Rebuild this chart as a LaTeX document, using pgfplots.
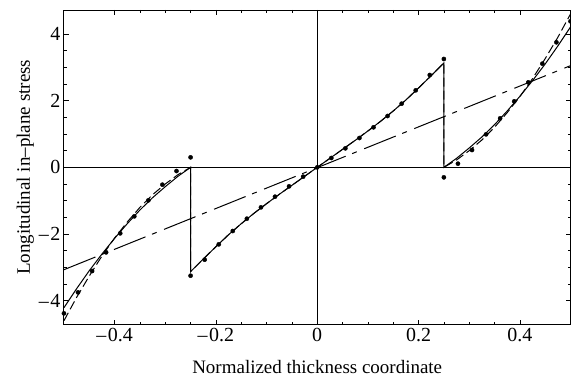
\documentclass[border=0pt]{standalone}
\usepackage{fontspec}
\setmainfont{Liberation Serif}
\usepackage{pgfplots}
\pgfplotsset{compat=1.18}
\begin{document}
\begin{tikzpicture}
\begin{axis}[
  scale only axis, width=507pt, height=315pt,
  xmin=-0.5, xmax=0.5, ymin=-4.72, ymax=4.72,
  font=\fontsize{19}{21}\selectfont,
  ticklabel style={font=\fontsize{20}{22}\selectfont},
  xtick={-0.4,-0.2,0,0.2,0.4},
  xticklabels={{\textendash\hspace{1.5pt}0.4},{\textendash\hspace{1.5pt}0.2},0,0.2,0.4},
  ytick={-4,-2,0,2,4},
  yticklabels={{\textendash\hspace{1.5pt}4},{\textendash\hspace{1.5pt}2},0,2,4},
  minor x tick num=3, minor y tick num=3,
  tick align=inside, major tick length=5pt, minor tick length=3pt,
  tick style={line width=0.6pt, black},
  axis line style={line width=0.9pt},
  xlabel={Normalized thickness coordinate},
  ylabel={Longitudinal in--plane stress},
  xlabel style={yshift=-12pt},
  ylabel style={yshift=-2pt},
  clip=true,
]
\coordinate (sw) at (rel axis cs:0,0);
\coordinate (ne) at (rel axis cs:1,1);
% zero axes
\addplot[black, line width=0.5pt] coordinates {(-0.5,0) (0.5,0)};
\addplot[black, line width=0.5pt] coordinates {(0,-4.72) (0,4.72)};
% dash-dot linear
\addplot[black, line width=1pt, dash pattern=on 34pt off 7pt on 5pt off 8pt] coordinates {(-0.5,-3.07) (0.5,3.05)};
% dashed
\addplot[black, line width=1pt, dash pattern=on 9pt off 4pt] coordinates {
(-0.5,-4.60) (-0.475,-3.90) (-0.45,-3.26) (-0.425,-2.66) (-0.4,-2.12) (-0.375,-1.64) (-0.35,-1.20) (-0.325,-0.82) (-0.3,-0.50) (-0.275,-0.22) (-0.25,0)
(-0.25,-3.13) (-0.225,-2.75) (-0.2,-2.38) (-0.175,-2.02) (-0.15,-1.69) (-0.125,-1.38) (-0.1,-1.09) (-0.075,-0.81) (-0.05,-0.54) (-0.025,-0.27) (0,0)
(0.025,0.27) (0.05,0.54) (0.075,0.81) (0.1,1.09) (0.125,1.38) (0.15,1.69) (0.175,2.02) (0.2,2.38) (0.225,2.75) (0.25,3.13)
(0.25,0) (0.275,0.22) (0.3,0.50) (0.325,0.82) (0.35,1.20) (0.375,1.64) (0.4,2.12) (0.425,2.66) (0.45,3.26) (0.475,3.90) (0.5,4.60)
};
% solid
\addplot[black, line width=1pt] coordinates {
(-0.5,-4.21) (-0.475,-3.64) (-0.45,-3.10) (-0.425,-2.60) (-0.4,-2.13) (-0.375,-1.69) (-0.35,-1.28) (-0.325,-0.91) (-0.3,-0.58) (-0.275,-0.27) (-0.25,0)
(-0.25,-3.13) (-0.225,-2.75) (-0.2,-2.38) (-0.175,-2.02) (-0.15,-1.69) (-0.125,-1.38) (-0.1,-1.09) (-0.075,-0.81) (-0.05,-0.54) (-0.025,-0.27) (0,0)
(0.025,0.27) (0.05,0.54) (0.075,0.81) (0.1,1.09) (0.125,1.38) (0.15,1.69) (0.175,2.02) (0.2,2.38) (0.225,2.75) (0.25,3.13)
(0.25,0) (0.275,0.27) (0.3,0.58) (0.325,0.91) (0.35,1.28) (0.375,1.69) (0.4,2.13) (0.425,2.60) (0.45,3.10) (0.475,3.64) (0.5,4.21)
};
% dots
\addplot[only marks, mark=*, mark size=2.1pt, black] coordinates {
(-0.5,-4.38) (-0.4722,-3.75) (-0.4444,-3.11) (-0.4167,-2.55) (-0.3889,-1.98) (-0.3611,-1.47) (-0.3333,-0.99) (-0.3056,-0.52) (-0.2778,-0.11) (-0.25,0.30)
(-0.25,-3.25) (-0.2222,-2.77) (-0.1944,-2.31) (-0.1667,-1.91) (-0.1389,-1.54) (-0.1111,-1.20) (-0.0833,-0.88) (-0.0556,-0.57) (-0.0278,-0.28) (0,0)
(0.0278,0.28) (0.0556,0.57) (0.0833,0.88) (0.1111,1.20) (0.1389,1.54) (0.1667,1.91) (0.1944,2.31) (0.2222,2.77) (0.25,3.25)
(0.25,-0.30) (0.2778,0.11) (0.3056,0.52) (0.3333,0.99) (0.3611,1.47) (0.3889,1.98) (0.4167,2.55) (0.4444,3.11) (0.4722,3.75) (0.5,4.38)
};
\end{axis}
\pgfresetboundingbox
\path ([shift={(-64pt,-56pt)}]sw) rectangle ([shift={(0.5pt,10pt)}]ne);
\end{tikzpicture}
\end{document}
